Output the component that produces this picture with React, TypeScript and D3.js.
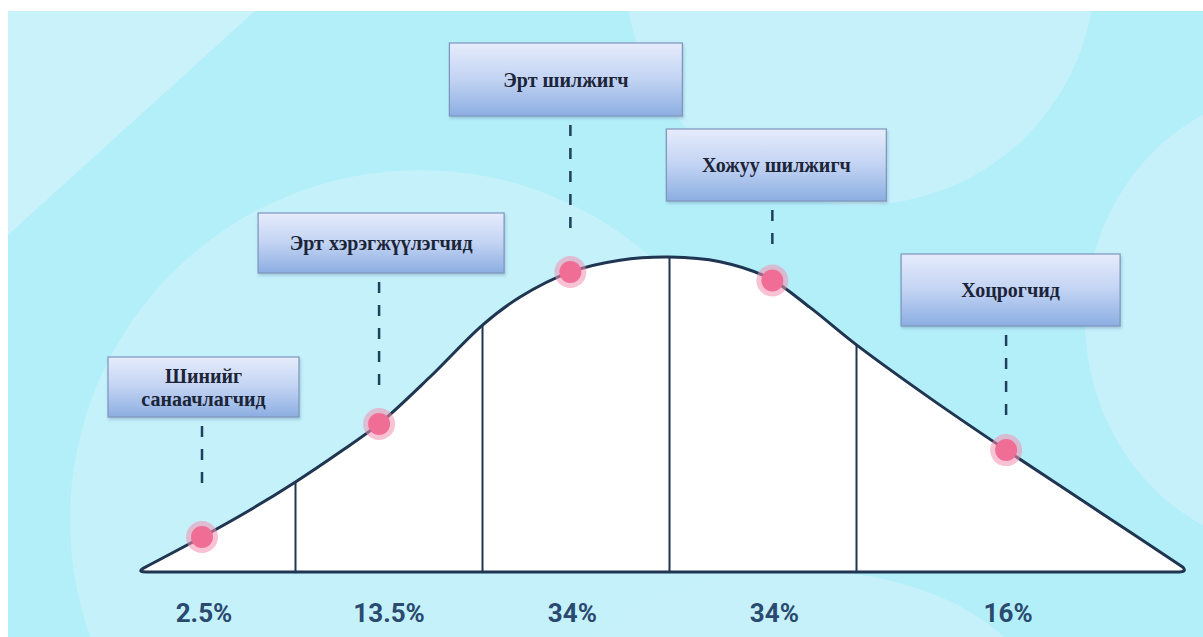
import React from "react";
import * as d3 from "d3";

// ---- data ----
const categories = [
  ["Шинийг", "санаачлагчид"],
  ["Эрт хэрэгжүүлэгчид"],
  ["Эрт шилжигч"],
  ["Хожуу шилжигч"],
  ["Хоцрогчид"],
];
const shareLabels = ["2.5%", "13.5%", "34%", "34%", "16%"];
// curve: position in standard deviations, relative height
const curveSigma = [-2.82, -2.5, -2.243, -2, -1.762, -1.553, -1.281, -1, -0.799, -0.532, -0.265, 0, 0.27, 0.532, 0.751, 1, 1.393, 1.8, 2.302, 2.746];
const curveHeight = [0.01, 0.111, 0.197, 0.286, 0.381, 0.47, 0.619, 0.784, 0.873, 0.952, 0.99, 1, 0.985, 0.933, 0.84, 0.721, 0.552, 0.387, 0.19, 0.015];
const dividerSigma = [-2, -1, 0, 1];
const markerSigma = [-2.5, -1.553, -0.53, 0.55, 1.8];

// ---- layout (not data) ----
const W = 1203;
const H = 637;
const boxLayout = [
  { w: 191, h: 60, top: 357, dx: 1.5, gap: 48 },
  { w: 246, h: 60, top: 213, dx: 2, gap: 33 },
  { w: 233, h: 73, top: 43, dx: -4.5, gap: 42 },
  { w: 220, h: 72, top: 129, dx: 4, gap: 33 },
  { w: 219, h: 72, top: 254, dx: 4.5, gap: 31 },
];

export default function App() {
  const x = d3.scaleLinear().domain([-3, 3]).range([669.5 - 561, 669.5 + 561]);
  const y = d3.scaleLinear().domain([0, 1]).range([572, 257]);
  const pts: [number, number][] = curveSigma.map((s, i) => [s, curveHeight[i]]);
  const interp = (s: number) => {
    for (let i = 0; i < curveSigma.length - 1; i++) {
      if (s >= curveSigma[i] && s <= curveSigma[i + 1]) {
        const t = (s - curveSigma[i]) / (curveSigma[i + 1] - curveSigma[i]);
        return curveHeight[i] + t * (curveHeight[i + 1] - curveHeight[i]);
      }
    }
    return 0;
  };
  const line = d3
    .line<[number, number]>()
    .x((d) => x(d[0]))
    .y((d) => y(d[1]))
    .curve(d3.curveCatmullRom.alpha(0.5));
  const curvePath = line(pts) || "";
  const x0 = x(curveSigma[0]);
  const x1 = x(curveSigma[curveSigma.length - 1]);
  const shapePath = `${curvePath} Q ${x1 + 4} ${y(0)} ${x1 - 4} ${y(0)} L ${x0 + 4} ${y(0)} Q ${x0 - 4} ${y(0)} ${x0} ${y(curveHeight[0])}`;
  const navy = "#1f3552";

  return (
    <svg
      width={W}
      height={H}
      style={{ position: "absolute", left: 0, top: 0, display: "block" }}
    >
      <defs>
        <linearGradient id="boxg" x1="0" y1="0" x2="0" y2="1">
          <stop offset="0" stopColor="#e6ecfc" />
          <stop offset="0.5" stopColor="#c2d3f3" />
          <stop offset="1" stopColor="#8caee2" />
        </linearGradient>
        <clipPath id="bgclip">
          <rect x={8} y={11} width={W - 8} height={H - 11} />
        </clipPath>
        <filter id="shadow" x="-10%" y="-10%" width="130%" height="140%">
          <feDropShadow dx="1" dy="2" stdDeviation="1.5" floodColor="#5a7aa0" floodOpacity="0.35" />
        </filter>
      </defs>
      <rect x={0} y={0} width={W} height={H} fill="#ffffff" />
      <g clipPath="url(#bgclip)">
        <rect x={8} y={11} width={W - 8} height={H - 11} fill="#b3eff9" />
        <polygon points="8,11 255,11 8,235" fill="#c9f2fb" />
        <circle cx={420} cy={520} r={350} fill="#c4f1fa" />
        <circle cx={860} cy={-30} r={235} fill="#c6f1fa" />
        <ellipse cx={1300} cy={320} rx={215} ry={230} fill="#c6f1fa" />
        <ellipse cx={800} cy={720} rx={245} ry={150} fill="#c6f1fa" />
      </g>

      {/* curve shape */}
      <path d={shapePath} fill="#ffffff" stroke={navy} strokeWidth={3} strokeLinejoin="round" />
      {dividerSigma.map((s, i) => (
        <line key={i} x1={x(s)} x2={x(s)} y1={y(0)} y2={y(interp(s))} stroke={navy} strokeWidth={2} />
      ))}

      {/* boxes, connectors, markers */}
      {categories.map((lines, i) => {
        const cx = x(markerSigma[i]);
        const cy = y(interp(markerSigma[i]));
        const b = boxLayout[i];
        const bx = cx + b.dx - b.w / 2;
        const yStart = b.top + b.h + 9;
        const yEnd = cy - b.gap;
        return (
          <g key={i}>
            <rect x={bx} y={b.top} width={b.w} height={b.h} fill="url(#boxg)" stroke="#7d95bb" strokeWidth={1.2} filter="url(#shadow)" />
            {lines.map((t, j) => (
              <text
                key={j}
                x={bx + b.w / 2}
                y={b.top + b.h / 2 + (j - (lines.length - 1) / 2) * 23}
                textAnchor="middle"
                dominantBaseline="central"
                fontFamily="'Liberation Serif', 'DejaVu Serif', serif"
                fontWeight="bold"
                fontSize={20}
                fill="#1c2438"
              >
                {t}
              </text>
            ))}
            <line x1={cx} x2={cx} y1={yStart} y2={yEnd} stroke="#1f3f5c" strokeWidth={2.5} strokeDasharray="11 12" />
            <circle cx={cx} cy={cy} r={16} fill="#f48fb1" opacity={0.55} />
            <circle cx={cx} cy={cy} r={11} fill="#f06d96" />
            <text
              x={cx + (i === 1 ? 10 : 2)}
              y={622}
              textAnchor="middle"
              fontFamily="Roboto, 'Open Sans', sans-serif"
              fontWeight="bold"
              fontSize={26}
              fill="#2a4a6f"
            >
              {shareLabels[i]}
            </text>
          </g>
        );
      })}
    </svg>
  );
}
